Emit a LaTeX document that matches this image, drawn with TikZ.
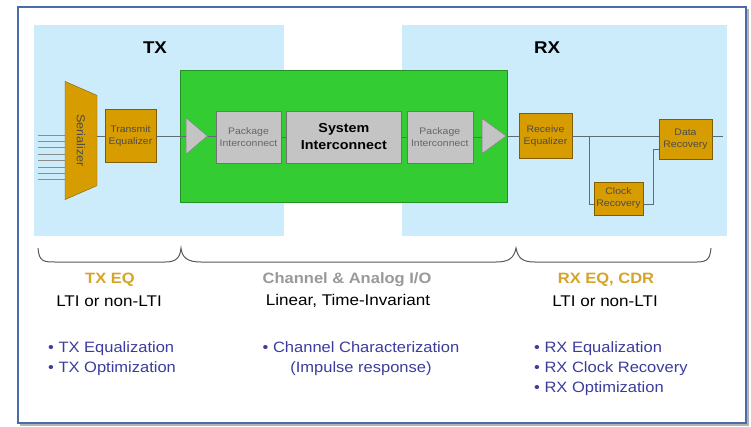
\documentclass[tikz,border=0pt]{standalone}
\usepackage{fontspec}
\setmainfont[FakeStretch=1.1]{Liberation Sans}
\usepackage{tikz}
\usetikzlibrary{shapes.geometric, positioning}

\definecolor{skyblue}{HTML}{CCEBFB}
\definecolor{chgreen}{HTML}{33CC33}
\definecolor{blockgold}{HTML}{D69C00}
\definecolor{headgold}{HTML}{D6A428}
\definecolor{listblue}{HTML}{3C3C9E}
\definecolor{frameblue}{HTML}{4A6CA8}
\definecolor{wirecol}{HTML}{5E6C78}

\begin{document}
\begin{tikzpicture}[x=1pt, y=-1pt,
    goldbox/.style={draw=blockgold!60!black, fill=blockgold, text=black!70,
        font=\fontsize{9.5}{12}\selectfont, align=center, inner sep=0pt},
    graybox/.style={draw=black!55, fill=black!23, text=black!60,
        font=\fontsize{9.5}{12}\selectfont, align=center, inner sep=0pt},
    amp/.style={isosceles triangle, isosceles triangle stretches, draw=black!50,
        fill=black!23, inner sep=0pt, minimum width=36, minimum height=21},
    wire/.style={draw=wirecol, line width=1pt},
    head/.style={font=\bfseries\fontsize{15}{18}\selectfont},
    sub/.style={font=\fontsize{15.5}{18}\selectfont},
    items/.style={text=listblue, font=\fontsize{15}{20}\selectfont, inner sep=0pt}]
    	\useasboundingbox (0,0) rectangle (751,426);
    	% frame
    	\fill[black!30] (20,9) rectangle (748.5,425.5);
    	\draw[frameblue, line width=1.6pt, fill=white] (18,7) rectangle (746,423);
    	\fill[skyblue] (34,25) rectangle (284,236);
    	\fill[skyblue] (402,25) rectangle (727,236);
    	\draw[chgreen!70!black, fill=chgreen] (180,70) rectangle (507,202);
    	\node[font=\bfseries\fontsize{17}{20}\selectfont] (txlabel) at (155,48) {TX};
    	\node[font=\bfseries\fontsize{17}{20}\selectfont] (rxlabel) at (547,48) {RX};
    %	transmitter
    	\node[trapezium, trapezium angle=46, trapezium stretches, rotate=-90,
    	      draw=blockgold!60!black, fill=blockgold, text=black!70, inner sep=0pt,
    	      minimum width=119, minimum height=32,
    	      font=\fontsize{11.5}{12}\selectfont] (ser) at (81,140.5) {Serializer};
    	\node[goldbox, minimum width=51, minimum height=53] (txeq) at (130.5,136) {Transmit\\Equalizer};
    	\node[amp] (ampA) at (194.5,136) {};
    %	channel
    	\node[graybox, minimum width=65, minimum height=52] (pkgA) at (248.5,137) {Package\\Interconnect};
    	\node[graybox, minimum width=115, minimum height=52, text=black,
    	      font=\bfseries\fontsize{13}{17}\selectfont] (sys) [right=5pt of pkgA] {System\\Interconnect};
    	\node[graybox, minimum width=66, minimum height=52] (pkgB) [right=5pt of sys] {Package\\Interconnect};
    	\node[amp, minimum width=35, minimum height=24] (ampB) at (491,136) {};
    %	receiver
    	\node[goldbox, minimum width=53, minimum height=45] (rxeq) at (545.5,136) {Receive\\Equalizer};
    	\node[goldbox, minimum width=53, minimum height=40] (dr) at (685.5,139) {Data\\Recovery};
    	\node[goldbox, minimum width=49, minimum height=33] (clk) at (618.5,198.5) {Clock\\Recovery};
    	\coordinate (tap) at (589,136);
    	\coordinate (out) at (723,136);

    	\foreach \i in {0,...,7}
    	    \coordinate (in\i) at (38,{135+6.4*\i});
    	\foreach \i in {0,...,7}
    	    \draw[draw=black!45, line width=1pt] (in\i) -- (in\i -| ser.south);

    	\path[wire] (ser.north |- txeq.west) -- (txeq.west)
    	  (txeq.east) -- (ampA.west)
    	  (ampA.apex) -- (ampA.apex -| pkgA.west)
    	  (pkgA.east) -- (sys.west)
    	  (sys.east) -- (pkgB.west)
    	  (pkgB.east -| pkgB.east) -- (pkgB.east -| ampB.west)
    	  (ampB.apex) -- (rxeq.west)
    	  (rxeq.east) -- (rxeq.east -| dr.west)
    	  (dr.east |- out) -- (out)
    	  (tap) |- ([yshift=-6pt]clk.west)
    	  ([yshift=-6pt]clk.east) -- ++(10,0) |- ([yshift=-10pt]dr.west);

    %	braces
    	\coordinate (b1) at (38,248);
    	\coordinate (b2) at (181,248);
    	\coordinate (b3) at (516,248);
    	\coordinate (b4) at (711,248);
    	\draw[black!65, line width=1pt] (b1) .. controls (39,262) and (44,262) .. (56,262) -- (165,262)
    	  .. controls (176,262) and (180,258) .. (b2) .. controls (182,258) and (188,262) .. (201,262) -- (496,262)
    	  .. controls (509,262) and (514,258) .. (b3) .. controls (518,258) and (522,262) .. (535,262) -- (697,262)
    	  .. controls (708,262) and (710,258) .. (b4);

    	\node[head, text=headgold] (txhead) at (110,280) {TX EQ};
    	\node[sub] (txsub) at (109,301) {LTI or non-LTI};
    	\node[head, text=black!40] (chanhead) at (347,280) {Channel \& Analog I/O};
    	\node[sub] (chansub) at (348,301) {Linear, Time-Invariant};
    	\node[head, text=headgold] (rxhead) at (606,280) {RX EQ, CDR};
    	\node[sub] (rxsub) at (605,301) {LTI or non-LTI};

    	\node[items, anchor=base west, align=left] (txlist) at (48,372)
    	  {• TX Equalization\\• TX Optimization};
    	\node[items, anchor=base, align=center] (chanlist) at (361,372)
    	  {• Channel Characterization\\(Impulse response)};
    	\node[items, anchor=base west, align=left] (rxlist) at (534,392)
    	  {• RX Equalization\\• RX Clock Recovery\\• RX Optimization};
    \end{tikzpicture}
\end{document}
